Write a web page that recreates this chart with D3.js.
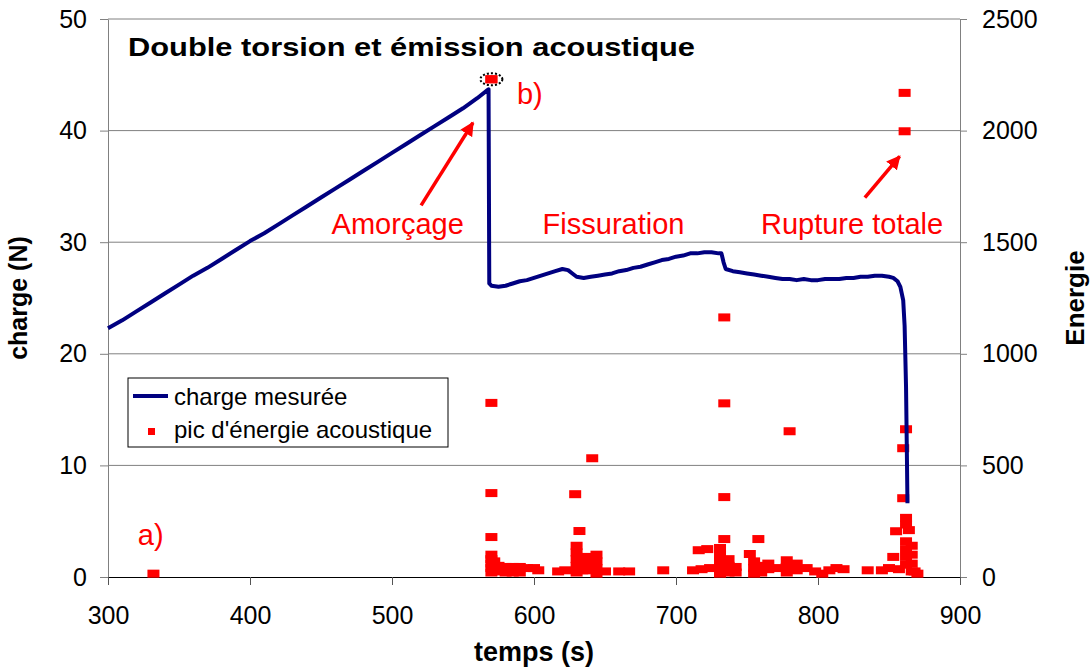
<!DOCTYPE html>
<html>
<head>
<meta charset="utf-8">
<script src="https://cdn.jsdelivr.net/npm/d3@7"></script>
<style>
  body { margin: 0; background: #fff; }
  svg { display: block; font-family: "Liberation Sans", Arial, sans-serif; }
</style>
</head>
<body>
<div id="chart"></div>
<script>
// Data
const timeTicks = [300, 400, 500, 600, 700, 800, 900];
const chargeTicks = [0, 10, 20, 30, 40, 50];
const energyTicks = [0, 500, 1000, 1500, 2000, 2500];

// measured load (N) vs time (s)
const loadTime = [300, 310, 320, 330, 340, 350, 360, 370, 380, 390, 400, 410, 420, 430, 440, 450,
  460, 470, 480, 490, 500, 510, 520, 530, 540, 550, 560, 567, 568,
  568.5, 570, 575, 580, 585, 590, 595, 600, 605, 610, 615, 620, 624, 627, 630, 635, 640, 645,
  650, 655, 660, 665, 670, 675, 680, 685, 690, 695, 700, 705, 710, 715, 720, 725, 730, 732,
  733.5, 735, 740, 745, 750, 755, 760, 765, 770, 775, 780, 785, 790, 795, 800, 805, 810, 815,
  820, 825, 830, 835, 840, 845, 850, 853, 856, 858, 860, 861, 862, 862.5, 863];
const loadValue = [22.3, 23.0, 23.8, 24.6, 25.4, 26.2, 27.0, 27.7, 28.5, 29.3, 30.1, 30.8, 31.6, 32.4, 33.2, 34.0,
  34.8, 35.6, 36.4, 37.2, 38.0, 38.8, 39.6, 40.4, 41.2, 42.0, 42.9, 43.6, 43.7,
  26.3, 26.1, 26.0, 26.1, 26.3, 26.5, 26.6, 26.8, 27.0, 27.2, 27.4, 27.6, 27.5, 27.2, 26.9, 26.8, 26.9, 27.0,
  27.1, 27.2, 27.4, 27.5, 27.7, 27.8, 28.0, 28.2, 28.4, 28.5, 28.7, 28.8, 29.0, 29.0, 29.1, 29.1, 29.0, 29.0,
  28.2, 27.6, 27.4, 27.3, 27.2, 27.1, 27.0, 26.9, 26.8, 26.7, 26.7, 26.6, 26.7, 26.6, 26.6, 26.7, 26.7, 26.7,
  26.8, 26.8, 26.9, 26.9, 27.0, 27.0, 26.9, 26.8, 26.5, 26.0, 24.8, 22.5, 17.0, 12.0, 6.6];

// acoustic energy peaks vs time (s)
const aeTime = [332, 570,
  570, 570, 570, 570, 570, 570, 570, 570, 572, 575, 575, 580, 580, 585, 585, 590, 590, 595, 600, 603,
  617, 622, 629, 632, 641, 630, 630, 630, 630, 630, 634, 634, 638, 638, 638, 644, 644, 644, 644, 650, 660, 667, 691,
  712, 716, 718, 722, 724, 734, 734, 734, 734, 731, 731, 731, 731, 731, 737, 737, 737, 742, 742,
  752, 758, 755, 755, 755, 760, 760, 765, 765, 770, 778, 778, 778, 780, 785, 785, 792, 798, 803, 808, 813, 818, 835,
  845, 850, 853, 855, 857, 860, 860, 861, 861, 862, 862, 862, 862, 862, 862, 862, 864, 866, 866, 866, 866, 868, 870];
const aeEnergy = [15, 2230,
  780, 376, 179, 100, 80, 60, 40, 20, 70, 50, 25, 45, 20, 45, 20, 45, 20, 40, 40, 30,
  25, 30, 371, 206, 532, 140, 110, 80, 50, 20, 60, 30, 90, 60, 30, 100, 70, 40, 15, 25, 25, 25, 30,
  30, 120, 35, 125, 40, 1163, 778, 358, 170, 130, 100, 70, 40, 15, 80, 50, 20, 45, 20,
  103, 170, 70, 40, 15, 50, 20, 60, 35, 40, 75, 45, 20, 653, 60, 30, 40, 25, 15, 30, 40, 35, 30,
  30, 40, 90, 205, 35, 577, 353, 2169, 1997, 662, 265, 235, 160, 125, 90, 55, 210, 140, 100, 60, 25, 25, 15];
const selectedPeak = 1; // the marker shown selected at the top

// Dimensions and margins
const margin = {top: 19, right: 131, bottom: 90, left: 108};
const width = 1091 - margin.left - margin.right;
const height = 667 - margin.top - margin.bottom;

const root = d3.select("#chart")
  .append("svg")
    .attr("width", width + margin.left + margin.right)
    .attr("height", height + margin.top + margin.bottom);

const svg = root.append("g")
    .attr("transform", `translate(${margin.left},${margin.top})`);

// Scales
const x = d3.scaleLinear().domain([300, 900]).range([0, width]);
const y = d3.scaleLinear().domain([0, 50]).range([height, 0]);
const yR = d3.scaleLinear().domain([0, 2500]).range([height, 0]);

// Gridlines
svg.append("g")
  .selectAll("line")
  .data(chargeTicks.filter(d => d > 0))
  .enter()
  .append("line")
    .attr("x1", 0)
    .attr("x2", width)
    .attr("y1", d => y(d))
    .attr("y2", d => y(d))
    .attr("stroke", "#808080")
    .attr("stroke-width", 1);

// Left axis
const leftAxis = svg.append("g")
  .call(d3.axisLeft(y).tickValues(chargeTicks).tickSize(8).tickPadding(13).tickSizeOuter(0));
leftAxis.select(".domain").attr("stroke", "#808080");
leftAxis.selectAll(".tick line").attr("stroke", "#808080");
leftAxis.selectAll("text").style("font-size", "25px").attr("fill", "#000");

// Right axis
const rightAxis = svg.append("g")
  .attr("transform", `translate(${width},0)`)
  .call(d3.axisRight(yR).tickValues(energyTicks).tickFormat(d3.format("d"))
    .tickSize(7).tickPadding(15).tickSizeOuter(0));
rightAxis.select(".domain").attr("stroke", "#808080");
rightAxis.selectAll(".tick line").attr("stroke", "#808080");
rightAxis.selectAll("text").style("font-size", "25px").attr("fill", "#000");

// Bottom axis
const bottomAxis = svg.append("g")
  .attr("transform", `translate(0,${height})`)
  .call(d3.axisBottom(x).tickValues(timeTicks).tickSize(8).tickPadding(21).tickSizeOuter(0));
bottomAxis.select(".domain").attr("stroke", "#000");
bottomAxis.selectAll(".tick line").attr("stroke", "#555");
bottomAxis.selectAll("text").style("font-size", "25px").attr("fill", "#000");

// Axis titles
svg.append("text")
  .attr("transform", `translate(${27 - margin.left},${height / 2}) rotate(-90)`)
  .attr("text-anchor", "middle")
  .style("font-size", "25px")
  .style("font-weight", "bold")
  .text("charge (N)");

svg.append("text")
  .attr("transform", `translate(${1084 - margin.left},${height / 2}) rotate(-90)`)
  .attr("text-anchor", "middle")
  .style("font-size", "26px")
  .style("font-weight", "bold")
  .text("Energie");

svg.append("text")
  .attr("x", x(600))
  .attr("y", height + 84)
  .attr("text-anchor", "middle")
  .style("font-size", "27px")
  .style("font-weight", "bold")
  .text("temps (s)");

// Acoustic energy peaks
const peaks = aeTime.map((t, i) => ({t: t, e: aeEnergy[i]}));
svg.append("g")
  .selectAll("rect")
  .data(peaks)
  .enter()
  .append("rect")
    .attr("x", d => x(d.t) - 6)
    .attr("y", d => yR(d.e) - 4)
    .attr("width", 12)
    .attr("height", 8)
    .attr("fill", "#ff0000");

// Measured load line
const load = loadTime.map((t, i) => ({t: t, v: loadValue[i]}));
svg.append("path")
  .datum(load)
  .attr("fill", "none")
  .attr("stroke", "#000080")
  .attr("stroke-width", 4)
  .attr("stroke-linejoin", "round")
  .attr("d", d3.line().x(d => x(d.t)).y(d => y(d.v)));

// Selected marker at the top
const sel = peaks[selectedPeak];
svg.append("ellipse")
  .attr("cx", x(sel.t))
  .attr("cy", yR(sel.e))
  .attr("rx", 11)
  .attr("ry", 6)
  .attr("fill", "none")
  .attr("stroke", "#000")
  .attr("stroke-width", 2)
  .attr("stroke-dasharray", "2,2");
svg.append("rect")
  .attr("x", x(sel.t) - 6)
  .attr("y", yR(sel.e) - 4)
  .attr("width", 12)
  .attr("height", 8)
  .attr("fill", "#ff0000");

// Title
svg.append("text")
  .attr("x", 128 - margin.left)
  .attr("y", 56 - margin.top)
  .style("font-size", "26px")
  .style("font-weight", "bold")
  .attr("textLength", 567)
  .attr("lengthAdjust", "spacingAndGlyphs")
  .text("Double torsion et émission acoustique");

// Legend
const legend = svg.append("g")
  .attr("transform", `translate(${128 - margin.left},${378 - margin.top})`);
legend.append("rect")
  .attr("width", 320)
  .attr("height", 69)
  .attr("fill", "#fff")
  .attr("stroke", "#000")
  .attr("stroke-width", 1);
legend.append("line")
  .attr("x1", 5).attr("x2", 40)
  .attr("y1", 18).attr("y2", 18)
  .attr("stroke", "#000080")
  .attr("stroke-width", 4);
legend.append("rect")
  .attr("x", 20).attr("y", 60 - 7 - 3)
  .attr("width", 7).attr("height", 7)
  .attr("fill", "#ff0000");
legend.append("text")
  .attr("x", 46).attr("y", 27)
  .style("font-size", "24px")
  .text("charge mesurée");
legend.append("text")
  .attr("x", 46).attr("y", 60)
  .style("font-size", "24px")
  .text("pic d'énergie acoustique");

// Annotations
const red = "#ff0000";
const defs = root.append("defs");
defs.append("marker")
  .attr("id", "arrow")
  .attr("viewBox", "0 0 10 10")
  .attr("refX", 9)
  .attr("refY", 5)
  .attr("markerWidth", 4)
  .attr("markerHeight", 4)
  .attr("orient", "auto")
  .append("path")
    .attr("d", "M0,0 L10,5 L0,10 Z")
    .attr("fill", red);

function arrow(t0, v0, t1, v1) {
  svg.append("line")
    .attr("x1", x(t0)).attr("y1", y(v0))
    .attr("x2", x(t1)).attr("y2", y(v1))
    .attr("stroke", red)
    .attr("stroke-width", 3.5)
    .attr("marker-end", "url(#arrow)");
}
arrow(520.5, 33.3, 557, 40.7);
arrow(833, 34.0, 857.5, 37.7);

function note(t, v, label, anchor) {
  svg.append("text")
    .attr("x", x(t))
    .attr("y", y(v))
    .attr("text-anchor", anchor)
    .attr("fill", red)
    .style("font-size", "29px")
    .text(label);
}
note(504, 30.7, "Amorçage", "middle");
note(656, 30.7, "Fissuration", "middle");
note(824, 30.7, "Rupture totale", "middle");
note(321, 2.9, "a)", "start");
note(588, 42.4, "b)", "start");
</script>
</body>
</html>
